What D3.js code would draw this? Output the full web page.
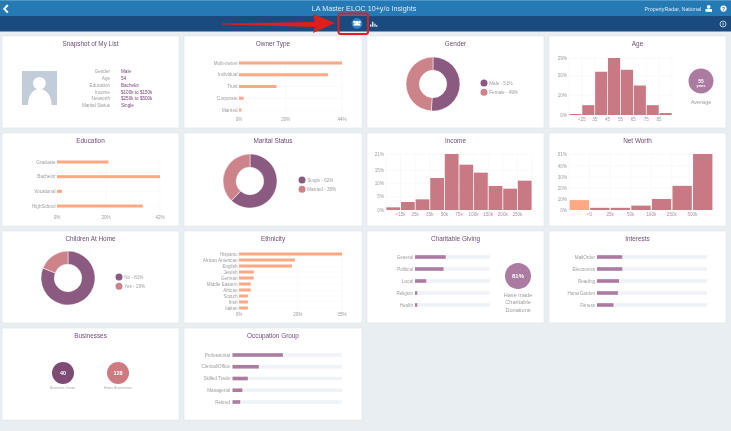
<!DOCTYPE html>
<html>
<head>
<meta charset="utf-8">
<script src="https://cdnjs.cloudflare.com/ajax/libs/d3/7.8.5/d3.min.js"></script>
<style>
  html, body { margin: 0; padding: 0; background: #e9eef2; overflow: hidden; }
  svg { display: block; font-family: "Liberation Sans", sans-serif; filter: blur(0.35px); }
  .lab { fill: #9c9ca0; font-size: 4.6px; }
  .title { fill: #6e4a78; font-size: 6.4px; text-anchor: middle; }
</style>
</head>
<body>
<svg id="page" width="731" height="431"></svg>
<script>
const snapshotLabels = ["Gender", "Age", "Education", "Income", "Networth", "Marital Status"];
const snapshotValues = ["Male", "54", "Bachelor", "$100k to $150k", "$250k to $500k", "Single"];

const ownerTypes = ["Multi-owner", "Individual", "Trust", "Corporate", "Married"];
const ownerValues = [44, 38, 16, 2, 1];
const ownerTicks = [0, 20, 44];

const educationLevels = ["Graduate", "Bachelor", "Vocational", "HighSchool"];
const educationValues = [21, 42, 2, 35];
const educationTicks = [0, 20, 42];

const ethnicities = ["Hispanic", "African American", "English", "Jewish", "German", "Middle Eastern", "African", "Scotch", "Irish", "Italian"];
const ethnicityValues = [35, 19, 18, 5, 5, 4, 4, 3, 3, 3];
const ethnicityTicks = [0, 20, 35];

const genderLabels = ["Male", "Female"];
const genderValues = [51, 49];
const maritalLabels = ["Single", "Married"];
const maritalValues = [62, 38];
const childrenLabels = ["No", "Yes"];
const childrenValues = [81, 19];

const ageTicks = ["<25", "35", "45", "55", "65", "75", "85"];
const ageValues = [0.5, 5, 22, 29, 23, 15, 5, 1];
const ageYTicks = [0, 10, 20, 29];

const incomeTicks = ["<15k", "25k", "35k", "50k", "75k", "100k", "150k", "200k", "250k"];
const incomeValues = [1, 3, 4, 12, 21, 17, 14, 9, 8, 11];
const incomeYTicks = [0, 5, 10, 15, 21];

const worthTicks = ["<0", "25k", "50k", "100k", "250k", "500k"];
const worthValues = [9, 2, 2, 4, 10, 22, 51];
const worthYTicks = [0, 10, 20, 30, 40, 51];

const givingTypes = ["General", "Political", "Local", "Religion", "Health"];
const givingValues = [41, 38, 15, 3, 3];
const interestTypes = ["MailOrder", "Electronics", "Reading", "HomeGarden", "Fitness"];
const interestValues = [23, 23, 20, 19, 15];
const occupationTypes = ["Professional", "Clerical/Office", "Skilled Trade", "Managerial", "Retired"];
const occupationValues = [46, 24, 14, 9, 7];

const businessLabels = ["Business Owner", "Home Businesses"];
const businessValues = [40, 128];

const ORANGE = "#ffa883", ROSE = "#c97984", PLUM = "#8a5a80", PINK = "#cd838a", MAUVE = "#ac7ba2";
const svg = d3.select("#page");

// header bars
svg.append("rect").attr("width", 731).attr("height", 16).attr("fill", "#2579b5");
svg.append("rect").attr("width", 731).attr("height", 1).attr("fill", "#4d97c9");
svg.append("rect").attr("y", 16).attr("width", 731).attr("height", 15.5).attr("fill", "#1b4b7e");
svg.append("path").attr("d", "M7.8,5 L4.3,8.8 L7.8,12.6").attr("fill", "none").attr("stroke", "#fff").attr("stroke-width", 2);
svg.append("text").attr("x", 364).attr("y", 11.3).attr("text-anchor", "middle").attr("fill", "#dfeaf4")
    .attr("font-size", 7.2).text("LA Master ELOC 10+y/o Insights");
svg.append("text").attr("x", 701).attr("y", 10.5).attr("text-anchor", "end").attr("fill", "#dfeaf4")
    .attr("font-size", 5.3).text("PropertyRadar, National");
svg.append("circle").attr("cx", 708.7).attr("cy", 6.8).attr("r", 1.9).attr("fill", "#fff");
svg.append("rect").attr("x", 705.5).attr("y", 9).attr("width", 6.5).attr("height", 2.8).attr("fill", "#fff");
svg.append("circle").attr("cx", 723.5).attr("cy", 8.6).attr("r", 3.1).attr("fill", "#fff");
svg.append("text").attr("x", 723.5).attr("y", 10.6).attr("text-anchor", "middle").attr("fill", "#2579b5")
    .attr("font-size", 5.4).attr("font-weight", "bold").text("?");
svg.append("circle").attr("cx", 723).attr("cy", 24).attr("r", 3).attr("fill", "none").attr("stroke", "#e6edf3").attr("stroke-width", 0.8);
svg.append("rect").attr("x", 722.6).attr("y", 22.5).attr("width", 0.9).attr("height", 3).attr("fill", "#e6edf3");

// toolbar icons
svg.append("circle").attr("cx", 357).attr("cy", 23.5).attr("r", 5.4).attr("fill", "#2f83c2");
svg.append("circle").attr("cx", 357).attr("cy", 22.5).attr("r", 1.7).attr("fill", "#fff");
svg.append("circle").attr("cx", 354.4).attr("cy", 21.9).attr("r", 1.2).attr("fill", "#fff");
svg.append("circle").attr("cx", 359.6).attr("cy", 21.9).attr("r", 1.2).attr("fill", "#fff");
svg.append("rect").attr("x", 353.6).attr("y", 23.4).attr("width", 6.8).attr("height", 2.2).attr("fill", "#fff");
[[370, 24.5, 2.2], [372, 21.7, 5], [374.2, 23.7, 3], [376, 25.2, 1.5]].forEach(b => {
    svg.append("rect").attr("x", b[0]).attr("y", b[1]).attr("width", 1.4).attr("height", b[2]).attr("fill", "#dfe8f0");
});

// cards
const colX = [2, 184, 367, 549];
const colW = [177, 178, 177, 177];
const rowY = [36, 133, 231, 328];
const rowH = [92, 93, 92, 92];
const cardTitles = [
    ["Snapshot of My List", "Owner Type", "Gender", "Age"],
    ["Education", "Marital Status", "Income", "Net Worth"],
    ["Children At Home", "Ethnicity", "Charitable Giving", "Interests"],
    ["Businesses", "Occupation Group"]
];
cardTitles.forEach((row, r) => row.forEach((title, c) => {
    svg.append("rect").attr("x", colX[c]).attr("y", rowY[r]).attr("width", colW[c]).attr("height", rowH[r])
        .attr("fill", "#fff").attr("stroke", "#dfe5ea").attr("stroke-width", 0.6);
    svg.append("text").attr("class", "title").attr("x", colX[c] + colW[c] / 2).attr("y", rowY[r] + 10.3).text(title);
}));

function hBars(names, values, ticks, x0, x1, ys, axisY) {
    const x = d3.scaleLinear().domain([0, ticks[ticks.length - 1]]).range([x0, x1]);
    const y = d3.scalePoint().domain(names).range(ys);
    const top = ys[0] - 4, bottom = ys[1] + 4;
    svg.append("g").selectAll("line").data(ticks).join("line")
        .attr("x1", d => x(d)).attr("x2", d => x(d)).attr("y1", top).attr("y2", bottom)
        .attr("stroke", "#f1f2f4").attr("stroke-width", 0.5);
    svg.append("g").selectAll("line").data(names).join("line")
        .attr("x1", x0).attr("x2", x1).attr("y1", d => y(d)).attr("y2", d => y(d))
        .attr("stroke", "#f4f5f7").attr("stroke-width", 0.5);
    svg.append("g").selectAll("rect").data(names).join("rect")
        .attr("x", x0).attr("y", d => y(d) - 1.5)
        .attr("width", (d, i) => x(values[i]) - x0).attr("height", 3).attr("fill", ORANGE);
    svg.append("g").selectAll("text").data(names).join("text").attr("class", "lab")
        .attr("x", x0 - 1.5).attr("y", d => y(d) + 1.65).attr("text-anchor", "end").text(d => d);
    svg.append("g").selectAll("text").data(ticks).join("text").attr("class", "lab")
        .attr("x", d => x(d)).attr("y", axisY).attr("text-anchor", "middle").text(d => d + "%");
}

function donut(labels, values, cx, cy, legendX, legendY) {
    const g = svg.append("g").attr("transform", `translate(${cx},${cy})`);
    const pie = d3.pie().sort(null)(values);
    const arc = d3.arc().innerRadius(13.7).outerRadius(27);
    const colors = [PLUM, PINK];
    g.selectAll("path").data(pie).join("path").attr("d", arc)
        .attr("fill", (d, i) => colors[i]).attr("stroke", "#fff").attr("stroke-width", 0.5);
    labels.forEach((name, i) => {
        const ly = legendY + i * 9.2;
        svg.append("circle").attr("cx", legendX).attr("cy", ly).attr("r", 3.5).attr("fill", colors[i]);
        svg.append("text").attr("class", "lab").attr("x", legendX + 5.3).attr("y", ly + 1.65)
            .text(`${name} - ${values[i]}%`);
    });
}

function histogram(values, tickLabels, yTicks, x0, x1, y0, y1, firstColor) {
    const x = d3.scaleBand().domain(d3.range(values.length)).range([x0, x1]).paddingInner(0.06).paddingOuter(0.03);
    const y = d3.scaleLinear().domain([0, yTicks[yTicks.length - 1]]).range([y0, y1]);
    const edges = d3.range(values.length + 1).map(i => x0 + i * (x1 - x0) / values.length);
    svg.append("g").selectAll("line").data(edges).join("line")
        .attr("x1", d => d).attr("x2", d => d).attr("y1", y1).attr("y2", y0)
        .attr("stroke", "#f1f2f4").attr("stroke-width", 0.5);
    svg.append("g").selectAll("line").data(yTicks).join("line")
        .attr("x1", x0).attr("x2", x1).attr("y1", d => y(d)).attr("y2", d => y(d))
        .attr("stroke", "#f1f2f4").attr("stroke-width", 0.5);
    svg.append("g").selectAll("rect").data(values).join("rect")
        .attr("x", (d, i) => x(i)).attr("y", d => y(d))
        .attr("width", x.bandwidth()).attr("height", d => y0 - y(d))
        .attr("fill", (d, i) => i === 0 && firstColor ? firstColor : ROSE);
    svg.append("g").selectAll("text").data(yTicks).join("text").attr("class", "lab")
        .attr("x", x0 - 2).attr("y", d => y(d) + 1.65).attr("text-anchor", "end").text(d => d + "%");
    svg.append("g").selectAll("text").data(tickLabels).join("text").attr("class", "lab")
        .attr("x", (d, i) => edges[i + 1]).attr("y", y0 + 6.2).attr("text-anchor", "middle").text(d => d);
}

function trackBars(names, values, labelX, x0, x1, ys) {
    const x = d3.scaleLinear().domain([0, 100]).range([x0, x1]);
    const y = d3.scalePoint().domain(names).range(ys);
    svg.append("g").selectAll("rect").data(names).join("rect")
        .attr("x", x0).attr("y", d => y(d) - 1.8).attr("width", x1 - x0).attr("height", 3.6).attr("fill", "#eff3f7");
    svg.append("g").selectAll("rect").data(names).join("rect")
        .attr("x", x0).attr("y", d => y(d) - 1.8)
        .attr("width", (d, i) => x(values[i]) - x0).attr("height", 3.6).attr("fill", MAUVE);
    svg.append("g").selectAll("text").data(names).join("text").attr("class", "lab")
        .attr("x", labelX).attr("y", d => y(d) + 1.65).attr("text-anchor", "end").text(d => d);
}

function badge(cx, cy, r, color, label, size) {
    svg.append("circle").attr("cx", cx).attr("cy", cy).attr("r", r).attr("fill", color);
    svg.append("text").attr("x", cx).attr("y", cy + size * 0.36).attr("text-anchor", "middle")
        .attr("fill", "#fff").attr("font-size", size).attr("font-weight", "bold").text(label);
}

// snapshot card
svg.append("rect").attr("x", 22).attr("y", 71).attr("width", 35).attr("height", 34).attr("fill", "#c3ccd9");
svg.append("circle").attr("cx", 39.4).attr("cy", 83.3).attr("r", 6.3).attr("fill", "#fff");
svg.append("path").attr("d", "M28,105 C28,95 33,89 39.4,89 C46,89 51.5,95 51.5,105 Z").attr("fill", "#fff");
snapshotLabels.forEach((name, i) => {
    const ty = 73.4 + i * 6.7;
    svg.append("text").attr("class", "lab").attr("x", 110).attr("y", ty).attr("text-anchor", "end").text(name);
    svg.append("text").attr("x", 121).attr("y", ty).attr("fill", "#7b3f78").attr("font-size", 4.6).text(snapshotValues[i]);
});

hBars(ownerTypes, ownerValues, ownerTicks, 239, 342, [63, 110], 120.7);
hBars(educationLevels, educationValues, educationTicks, 57, 160, [162, 206], 218.5);
hBars(ethnicities, ethnicityValues, ethnicityTicks, 239, 342, [254, 308], 315.7);

donut(genderLabels, genderValues, 433, 84, 484, 83);
donut(maritalLabels, maritalValues, 250, 181, 302, 180);
donut(childrenLabels, childrenValues, 68, 278, 119, 277);

histogram(ageValues, ageTicks, ageYTicks, 569, 672, 115, 58);
histogram(incomeValues, incomeTicks, incomeYTicks, 386, 532, 210, 154);
histogram(worthValues, worthTicks, worthYTicks, 569, 713, 210, 154, ORANGE);

badge(701, 81, 12.5, MAUVE, "55", 5);
svg.append("text").attr("x", 701).attr("y", 87).attr("text-anchor", "middle").attr("fill", "#fff")
    .attr("font-size", 3.4).attr("font-weight", "bold").text("years");
svg.append("text").attr("class", "lab").attr("x", 701).attr("y", 104).attr("text-anchor", "middle")
    .style("font-size", "5.6px").text("Average");

trackBars(givingTypes, givingValues, 413, 415, 490, [257, 305]);
trackBars(interestTypes, interestValues, 595, 597, 707, [257, 305]);
trackBars(occupationTypes, occupationValues, 230, 232.5, 342, [355, 402]);

badge(518, 276, 13, MAUVE, "81%", 6);
["Have made", "Charitable", "Donations"].forEach((line, i) => {
    svg.append("text").attr("class", "lab").attr("x", 518).attr("y", 297 + i * 7.4).attr("text-anchor", "middle")
        .style("font-size", "5.6px").text(line);
});

const businessX = d3.scalePoint().domain(businessLabels).range([63, 118]);
const businessColors = ["#7d4b74", "#cd7b80"];
businessLabels.forEach((name, i) => {
    badge(businessX(name), 373, 11, businessColors[i], businessValues[i], 5.4);
    svg.append("text").attr("x", businessX(name)).attr("y", 388.6).attr("text-anchor", "middle")
        .attr("fill", "#a9a9ad").attr("font-size", 3.5).text(name);
});

// red callout
svg.append("rect").attr("x", 338.5).attr("y", 13.5).attr("width", 29.5).attr("height", 20.5).attr("rx", 2)
    .attr("fill", "none").attr("stroke", "#e01e1a").attr("stroke-width", 2);
svg.append("path").attr("d", "M222,23.6 L315,22 L313,14 L335,23 L313,33 L315,27 L222,24.6 Z").attr("fill", "#e01e1a");
</script>
</body>
</html>
